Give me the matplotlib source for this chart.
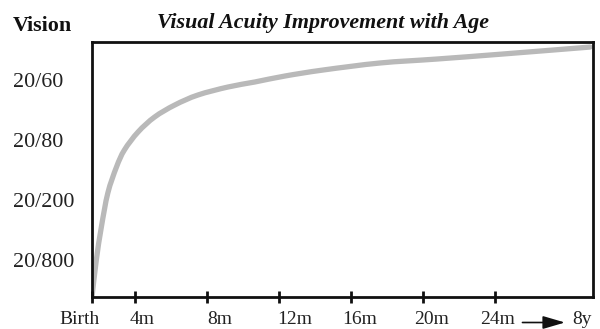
import numpy as np
import matplotlib.pyplot as plt
from matplotlib.path import Path
from matplotlib.patches import PathPatch
from matplotlib.transforms import blended_transform_factory

# x in "slot" units along the age axis (not linear in time), y in acuity levels
age_x = [0, 0.06, 0.13, 0.22, 0.34, 0.45, 0.64, 0.87, 1.15, 1.47,
         1.89, 2.26, 2.68, 3.21, 4.00, 4.79, 5.71, 6.92]
acuity_y = [0.42, 1.033, 1.583, 2.15, 2.583, 2.867, 3.167, 3.417, 3.617, 3.783,
            3.917, 4.0, 4.10, 4.20, 4.317, 4.383, 4.467, 4.583]

tick_pos = [0, 0.6, 1.6, 2.6, 3.6, 4.6, 5.6]
age_labels = ["Birth", "4m", "8m", "12m", "16m", "20m", "24m"]
age_label_x = [-0.17, 0.69, 1.78, 2.81, 3.72, 4.72, 5.64]

vision_levels = [1, 2, 3, 4]
vision_labels = ["20/800", "20/200", "20/80", "20/60"]

plt.rcParams['font.family'] = ['Liberation Serif', 'DejaVu Serif']

fig = plt.figure(figsize=(6, 3.29), dpi=100)
ax = fig.add_axes([92/600, 1 - 297/329, 501/600, 255/329])

ax.set_xlim(0, 6.96)
ax.set_ylim(0.417, 4.667)


def smooth_path(xs, ys, ax):
    # catmull-rom through the points, done in display space so the
    # curve shape does not depend on axis scaling
    pts = ax.transData.transform(np.column_stack([xs, ys]))
    verts = [pts[0]]
    codes = [Path.MOVETO]
    n = len(pts)
    for i in range(n - 1):
        p0 = pts[max(i - 1, 0)]
        p1 = pts[i]
        p2 = pts[i + 1]
        p3 = pts[min(i + 2, n - 1)]
        c1 = p1 + (p2 - p0) / 6
        c2 = p2 - (p3 - p1) / 6
        verts += [c1, c2, p2]
        codes += [Path.CURVE4] * 3
    verts = ax.transData.inverted().transform(np.array(verts))
    return Path(verts, codes)


ax.add_patch(PathPatch(smooth_path(age_x, acuity_y, ax), facecolor='none',
                       edgecolor='#b9b9b9', lw=3.8, capstyle='round'))

for s in ax.spines.values():
    s.set_linewidth(2.0)
    s.set_color('#111111')

ax.set_xticks(tick_pos)
ax.set_xticklabels([])
ax.tick_params(axis='x', direction='inout', length=8, width=2, color='#111111')
ax.set_yticks([])

tr = blended_transform_factory(ax.transData, ax.transAxes)
for lx, lab in zip(age_label_x, age_labels):
    ax.text(lx, -0.088, lab, transform=tr, ha='center', va='center', fontsize=14,
            color='#222222', clip_on=False)

# arrow to 8y
ax.annotate("", xy=(6.57, -0.1), xytext=(5.98, -0.1), xycoords=tr, textcoords=tr,
            arrowprops=dict(arrowstyle='-|>,head_length=0.75,head_width=0.22',
                            color='#111111', lw=1.2, mutation_scale=18,
                            shrinkA=0, shrinkB=0))
ax.text(6.81, -0.088, "8y", transform=tr, ha='center', va='center', fontsize=14,
        color='#222222', clip_on=False)

ytr = blended_transform_factory(fig.transFigure, ax.transData)
for lv, lab in zip(vision_levels, vision_labels):
    ax.text(13/600, lv, lab, transform=ytr, ha='left', va='center', fontsize=15.8,
            color='#222222', clip_on=False)

fig.text(13/600, 1 - 31/329, "Vision", fontsize=15.8, fontweight='bold',
         ha='left', va='baseline', color='#111111')
fig.text(323/600, 1 - 28/329, "Visual Acuity Improvement with Age", fontsize=15.8,
         fontweight='bold', fontstyle='italic', ha='center', va='baseline', color='#111111')

fig.savefig("out.png", dpi=100)
